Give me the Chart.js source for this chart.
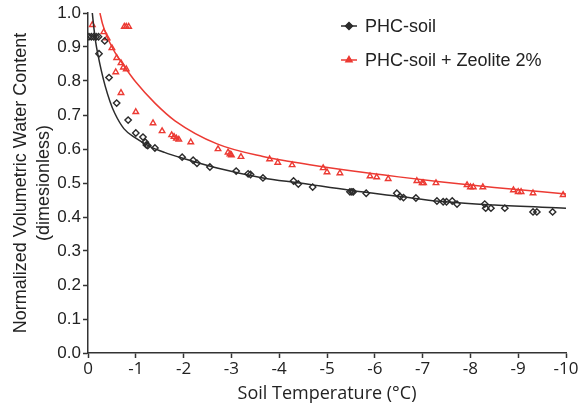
<!DOCTYPE html>
<html>
<head>
<meta charset="utf-8">
<script src="https://cdn.jsdelivr.net/npm/chart.js@4/dist/chart.umd.min.js"></script>
<style>
  body { margin: 0; background: #fff; }
  #wrap { width: 585px; height: 404px; }
</style>
</head>
<body>
<div id="wrap"><canvas id="chart" width="585" height="404"></canvas></div>
<script>
// measured points, PHC-soil
var blackT = [-0.02, -0.07, -0.12, -0.17, -0.22, -0.35, -0.23, -0.44, -0.6, -0.84, -1.0, -1.15, -1.2, -1.22, -1.25, -1.4,
  -1.97, -2.2, -2.28, -2.55, -3.1, -3.35, -3.4, -3.66, -4.3, -4.4, -4.7, -5.48, -5.52, -5.55, -5.82, -6.46, -6.53, -6.6,
  -6.86, -7.3, -7.43, -7.5, -7.62, -7.72, -8.3, -8.32, -8.43, -8.72, -9.31, -9.39, -9.72];
var blackV = [0.93, 0.93, 0.93, 0.93, 0.93, 0.918, 0.88, 0.81, 0.735, 0.685, 0.647, 0.635, 0.62, 0.612, 0.61, 0.603,
  0.576, 0.567, 0.558, 0.547, 0.535, 0.527, 0.525, 0.515, 0.506, 0.497, 0.488, 0.474, 0.474, 0.474, 0.47, 0.47, 0.46, 0.457,
  0.456, 0.447, 0.445, 0.445, 0.447, 0.438, 0.438, 0.426, 0.426, 0.426, 0.415, 0.415, 0.415];

// measured points, PHC-soil + Zeolite 2%
var redT = [-0.09, -0.76, -0.8, -0.85, -0.33, -0.4, -0.5, -0.6, -0.69, -0.74, -0.8, -0.58, -0.69, -1.0, -1.36, -1.55,
  -1.75, -1.8, -1.85, -1.9, -2.15, -2.72, -2.93, -2.97, -3.0, -3.2, -3.8, -3.97, -4.27, -4.92, -5.0, -5.27, -5.9, -6.04,
  -6.28, -6.88, -6.99, -7.02, -7.28, -7.93, -8.0, -8.06, -8.26, -8.9, -9.0, -9.06, -9.31, -9.94];
var redV = [0.965, 0.96, 0.96, 0.96, 0.944, 0.926, 0.897, 0.868, 0.853, 0.84, 0.835, 0.826, 0.765, 0.709, 0.676, 0.653,
  0.641, 0.636, 0.631, 0.628, 0.62, 0.6, 0.59, 0.585, 0.582, 0.577, 0.57, 0.56, 0.553, 0.544, 0.532, 0.529, 0.52, 0.517,
  0.512, 0.506, 0.5, 0.5, 0.5, 0.494, 0.488, 0.488, 0.488, 0.479, 0.474, 0.474, 0.47, 0.465];

// fitted curves
var blackFitT = [-0.09, -0.12, -0.16, -0.21, -0.28, -0.36, -0.46, -0.56, -0.75, -1.0, -1.3, -1.6, -2.0, -2.7, -3.66, -4.43, -5.5, -6.5, -7.36, -8.5, -10];
var blackFitV = [1.0, 0.96, 0.915, 0.876, 0.83, 0.785, 0.74, 0.705, 0.66, 0.632, 0.607, 0.59, 0.572, 0.544, 0.515, 0.5, 0.478, 0.461, 0.446, 0.435, 0.426];
var redFitT = [-0.25, -0.3, -0.4, -0.56, -0.75, -1.0, -1.4, -1.82, -2.7, -3.66, -4.64, -5.5, -6.5, -7.36, -8.5, -10];
var redFitV = [1.0, 0.97, 0.93, 0.885, 0.845, 0.797, 0.735, 0.683, 0.615, 0.578, 0.554, 0.536, 0.518, 0.504, 0.487, 0.468];

var seriesNames = ['PHC-soil', 'PHC-soil + Zeolite 2%'];
var xTitle = 'Soil Temperature (°C)';
var yTitle = ['Normalized Volumetric Water Content', '(dimesionless)'];

var BLACK = '#2b2b2b';
var RED = '#ec3a33';

function pairs(xs, ys) {
  var out = [];
  for (var i = 0; i < xs.length; i++) out.push({x: xs[i], y: ys[i]});
  return out;
}

// legend drawn inside the plot, line + marker + label
var legendPlugin = {
  id: 'insideLegend',
  afterDraw: function(chart) {
    var ctx = chart.ctx;
    var items = [
      {y: 26, color: BLACK, style: 'rectRot', text: seriesNames[0]},
      {y: 60, color: RED, style: 'triangle', text: seriesNames[1]}
    ];
    ctx.save();
    items.forEach(function(it) {
      ctx.strokeStyle = it.color;
      ctx.lineWidth = 1.5;
      ctx.beginPath();
      ctx.moveTo(341, it.y);
      ctx.lineTo(357, it.y);
      ctx.stroke();
      ctx.fillStyle = it.color;
      Chart.helpers.drawPoint(ctx, {pointStyle: it.style, radius: 3.5, borderWidth: 1}, 349, it.y);
      ctx.fill();
      ctx.fillStyle = '#222';
      ctx.font = '18px "Liberation Sans", Arial, sans-serif';
      ctx.textBaseline = 'middle';
      ctx.textAlign = 'left';
      ctx.fillText(it.text, 365, it.y + 1);
    });
    ctx.restore();
  }
};

var tickFont = {family: '"Liberation Sans", Arial, sans-serif', size: 17};

new Chart(document.getElementById('chart').getContext('2d'), {
  type: 'scatter',
  data: {
    datasets: [
      {
        label: seriesNames[0] + ' fit',
        type: 'line',
        data: pairs(blackFitT, blackFitV),
        borderColor: BLACK,
        borderWidth: 1.5,
        pointRadius: 0,
        cubicInterpolationMode: 'monotone',
        fill: false
      },
      {
        label: seriesNames[1] + ' fit',
        type: 'line',
        data: pairs(redFitT, redFitV),
        borderColor: RED,
        borderWidth: 1.5,
        pointRadius: 0,
        cubicInterpolationMode: 'monotone',
        fill: false
      },
      {
        label: seriesNames[0],
        data: pairs(blackT, blackV),
        pointStyle: 'rectRot',
        pointRadius: 3.2,
        borderColor: BLACK,
        backgroundColor: 'rgba(0,0,0,0)',
        pointBorderWidth: 1.4
      },
      {
        label: seriesNames[1],
        data: pairs(redT, redV),
        pointStyle: 'triangle',
        pointRadius: 3.2,
        borderColor: RED,
        backgroundColor: 'rgba(0,0,0,0)',
        pointBorderWidth: 1.4
      }
    ]
  },
  options: {
    responsive: false,
    animation: false,
    layout: {padding: {top: 13, right: 19, left: 0, bottom: 0}},
    plugins: {
      legend: {display: false},
      tooltip: {enabled: false}
    },
    scales: {
      x: {
        type: 'linear',
        min: -10,
        max: 0,
        reverse: true,
        afterFit: function(scale) { scale.height = 51; },
        ticks: {stepSize: 1, color: '#222', font: {family: '"Open Sans", sans-serif', size: 17}, padding: 1,
          callback: function(v) { return v === 0 ? '0' : String(v); }},
        grid: {display: true, drawOnChartArea: false, drawTicks: true, tickLength: 5, tickColor: '#333', tickWidth: 1.5},
        border: {display: true, color: '#333', width: 1.5},
        title: {display: true, text: xTitle, color: '#222',
          font: {family: '"Open Sans", sans-serif', size: 18, lineHeight: 1.1}, padding: {top: 0, bottom: 0}}
      },
      y: {
        type: 'linear',
        min: 0,
        max: 1,
        afterFit: function(scale) { scale.width = 88; },
        ticks: {stepSize: 0.1, color: '#222', font: tickFont, padding: 2,
          callback: function(v) { return v.toFixed(1); }},
        grid: {display: true, drawOnChartArea: false, drawTicks: true, tickLength: 5, tickColor: '#333', tickWidth: 1.5},
        border: {display: true, color: '#333', width: 1.5},
        title: {display: true, text: yTitle, color: '#222',
          font: {family: '"Liberation Sans", Arial, sans-serif', size: 18, lineHeight: 1.3}, padding: {top: 9, bottom: 0}}
      }
    }
  },
  plugins: [legendPlugin]
});
</script>
</body>
</html>
